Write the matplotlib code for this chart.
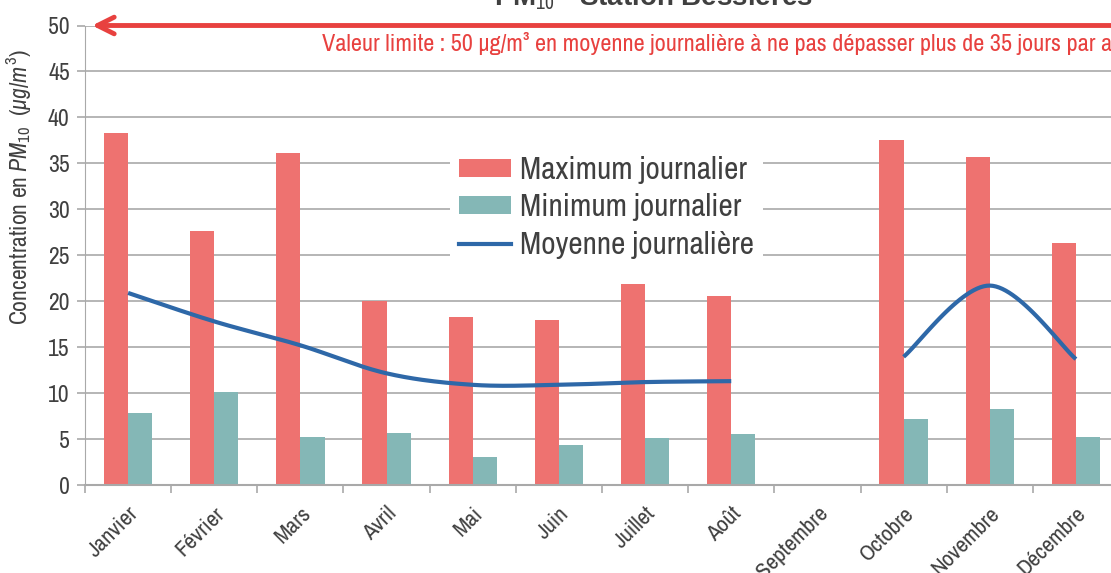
import numpy as np
import matplotlib
matplotlib.use("Agg")
import matplotlib.pyplot as plt
from matplotlib import font_manager
from matplotlib.patches import Patch
from matplotlib.lines import Line2D

months = ["Janvier", "Février", "Mars", "Avril", "Mai", "Juin", "Juillet",
          "Août", "Septembre", "Octobre", "Novembre", "Décembre"]
max_daily = [38.3, 27.6, 36.1, 20.0, 18.3, 17.9, 21.9, 20.6, np.nan, 37.5, 35.7, 26.3]
min_daily = [7.8, 10.15, 5.25, 5.65, 3.0, 4.4, 5.1, 5.55, np.nan, 7.2, 8.3, 5.2]
mean_daily = [20.9, 17.8, 15.2, 12.15, 10.9, 10.9, 11.2, 11.3, np.nan, 13.95, 21.7, 13.7]
yticks = [0, 5, 10, 15, 20, 25, 30, 35, 40, 45, 50]

C_MAX = "#EE7270"
C_MIN = "#84B7B6"
C_LINE = "#2E68A8"
C_RED = "#E8413F"
C_GRID = "#A9A9A9"
C_TXT = "#404040"

available = set(f.name for f in font_manager.fontManager.ttflist)
narrow = next((n for n in ["Liberation Sans Narrow", "Arial Narrow", "Archivo Narrow",
                           "PT Sans Narrow", "Roboto Condensed", "Open Sans Condensed",
                           "Pragati Narrow", "Liberation Sans"] if n in available), "DejaVu Sans")
plt.rcParams['font.family'] = [narrow, 'Liberation Sans', 'DejaVu Sans']
plt.rcParams['mathtext.fontset'] = 'custom'
plt.rcParams['mathtext.rm'] = narrow
plt.rcParams['mathtext.it'] = narrow + ':italic'
plt.rcParams['mathtext.bf'] = 'Liberation Sans:bold'

W, H = 1111, 573
fig = plt.figure(figsize=(W / 100, H / 100), dpi=100)
ax = fig.add_axes([85 / W, 1 - 485 / H, (1119 - 85) / W, (485 - 25.5) / H])

x = np.arange(len(months))
bw = 0.28
ax.bar(x - bw / 2, max_daily, bw, color=C_MAX, zorder=2)
ax.bar(x + bw / 2, min_daily, bw, color=C_MIN, zorder=2)


def smooth(xs, ys, n=30):
    xs = np.asarray(xs, float)
    ys = np.asarray(ys, float)
    px, py = [xs[0]], [ys[0]]
    for i in range(len(xs) - 1):
        p0 = i - 1 if i > 0 else i
        p3 = i + 2 if i + 2 < len(xs) else i + 1
        c1x = xs[i] + (xs[i + 1] - xs[p0]) / 6
        c1y = ys[i] + (ys[i + 1] - ys[p0]) / 6
        c2x = xs[i + 1] - (xs[p3] - xs[i]) / 6
        c2y = ys[i + 1] - (ys[p3] - ys[i]) / 6
        t = np.linspace(0, 1, n)[1:]
        bx = (1 - t) ** 3 * xs[i] + 3 * (1 - t) ** 2 * t * c1x + 3 * (1 - t) * t ** 2 * c2x + t ** 3 * xs[i + 1]
        by = (1 - t) ** 3 * ys[i] + 3 * (1 - t) ** 2 * t * c1y + 3 * (1 - t) * t ** 2 * c2y + t ** 3 * ys[i + 1]
        px.extend(bx)
        py.extend(by)
    return px, py


m = np.asarray(mean_daily, float)
valid = ~np.isnan(m)
segs = []
cur = []
for i in range(len(m)):
    if valid[i]:
        cur.append(i)
    else:
        if cur:
            segs.append(cur)
        cur = []
if cur:
    segs.append(cur)
for s in segs:
    sx, sy = smooth(x[s], m[s])
    ax.plot(sx, sy, color=C_LINE, lw=3, zorder=3, solid_capstyle='butt')

ax.set_xlim(-0.5, len(months) - 0.5)
ax.set_ylim(0, 50)
ax.set_yticks(yticks)
ax.yaxis.grid(True, color=C_GRID, lw=1.2, zorder=0)
ax.set_axisbelow(True)
for sp in ["top", "right"]:
    ax.spines[sp].set_visible(False)
ax.spines["left"].set_color(C_GRID)
ax.spines["bottom"].set_color(C_GRID)
ax.spines["bottom"].set_linewidth(1.5)
ax.tick_params(axis="y", colors=C_GRID, labelcolor=C_TXT, labelsize=17, length=6, width=1.2, pad=5)
ax.set_xticks(np.arange(-0.5, len(months), 1.0))
ax.set_xticklabels([])
ax.set_xticks(x, minor=True)
ax.set_xticklabels(months, minor=True, rotation=45, ha="right", va="top",
                   rotation_mode="anchor", fontsize=16.5, color=C_TXT)
ax.tick_params(axis="x", which="major", colors=C_GRID, length=6, width=1.2)
ax.tick_params(axis="x", which="minor", length=0, pad=13)

ax.set_ylabel("Concentration en $PM_{10}$  $(\\mu g/m^3)$", fontsize=17, color=C_TXT)
ax.yaxis.set_label_coords(-52 / (1119 - 85), (485 - 187) / (485 - 25.5))

# limit value arrow
ax.annotate("", xy=(-0.45, 50), xytext=(12, 50), xycoords="data",
            arrowprops=dict(arrowstyle="->", color=C_RED, lw=3.5, mutation_scale=30),
            annotation_clip=False, zorder=5)
ax.text(2.25, 48.0, "Valeur limite : 50 µg/m³ en moyenne journalière à ne pas dépasser plus de 35 jours par an",
        color=C_RED, fontsize=17.5, ha="left", va="center", zorder=5)

# title (cropped at top)
fig.text(653 / W, 1 - 6 / H, "PM$_{10}$ - Station Bessières", ha="center", va="baseline",
         fontsize=20, fontweight="bold", color=C_TXT, family=["Liberation Sans", "DejaVu Sans"])

handles = [Patch(facecolor=C_MAX, edgecolor="none"),
           Patch(facecolor=C_MIN, edgecolor="none"),
           Line2D([0], [0], color=C_LINE, lw=3)]
labels = ["Maximum journalier", "Minimum journalier", "Moyenne journalière"]
leg = fig.legend(handles, labels, loc="upper left", bbox_to_anchor=(434 / W, 1 - 131 / H),
                 frameon=True, fontsize=22.5, handlelength=1.65, handleheight=0.5,
                 handletextpad=0.3, labelspacing=0.3, borderpad=0.3)
leg.get_frame().set_facecolor("white")
leg.get_frame().set_edgecolor("none")
leg.get_frame().set_alpha(1)
for t in leg.get_texts():
    t.set_color(C_TXT)

fig.savefig("out.png", dpi=100)
